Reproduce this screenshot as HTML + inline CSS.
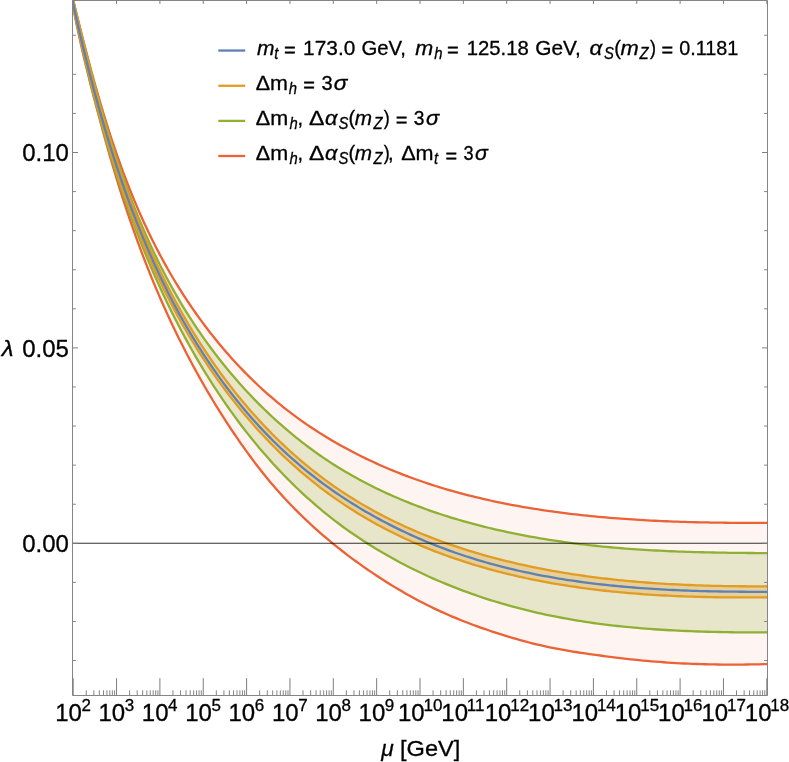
<!DOCTYPE html>
<html><head><meta charset="utf-8"><title>Running of lambda</title>
<style>html,body{margin:0;padding:0;background:#fff}svg{display:block;will-change:transform}</style>
</head><body>
<svg width="789" height="762" viewBox="0 0 789 762">
<rect width="789" height="762" fill="#fff"/>
<defs><clipPath id="cp"><rect x="72.5" y="0" width="695.0" height="695.5"/></clipPath></defs>
<g clip-path="url(#cp)">
<path d="M73.20 0.24 L74.09 3.85 L74.98 7.45 L75.87 11.06 L76.77 14.67 L77.67 18.28 L78.58 21.90 L79.48 25.52 L80.40 29.14 L81.31 32.76 L82.24 36.39 L83.16 40.01 L84.10 43.64 L85.03 47.27 L85.98 50.90 L86.93 54.53 L87.89 58.16 L88.85 61.79 L89.82 65.42 L90.80 69.05 L91.78 72.68 L92.78 76.31 L93.78 79.94 L94.79 83.57 L95.81 87.19 L96.84 90.82 L97.88 94.44 L98.92 98.07 L99.98 101.69 L101.05 105.31 L102.13 108.92 L103.22 112.53 L104.32 116.15 L105.43 119.75 L106.55 123.36 L107.68 126.96 L108.83 130.56 L109.99 134.15 L111.16 137.74 L112.35 141.33 L113.55 144.91 L114.76 148.48 L115.98 152.05 L117.22 155.62 L118.48 159.18 L119.75 162.74 L121.03 166.29 L122.33 169.84 L123.64 173.37 L124.97 176.91 L126.32 180.43 L127.68 183.95 L129.06 187.47 L130.46 190.97 L131.87 194.47 L133.30 197.96 L134.75 201.44 L136.22 204.92 L137.70 208.39 L139.21 211.85 L140.73 215.30 L142.27 218.74 L143.83 222.17 L145.41 225.60 L147.02 229.01 L148.64 232.42 L150.28 235.82 L151.94 239.20 L153.63 242.58 L155.33 245.94 L157.06 249.30 L158.81 252.65 L160.58 255.98 L162.37 259.30 L164.19 262.61 L166.02 265.91 L167.88 269.20 L169.76 272.47 L171.67 275.74 L173.59 278.98 L175.54 282.22 L177.51 285.44 L179.50 288.65 L181.51 291.84 L183.55 295.02 L185.61 298.19 L187.69 301.34 L189.79 304.47 L191.91 307.59 L194.06 310.69 L196.22 313.77 L198.41 316.84 L200.62 319.89 L202.86 322.93 L205.11 325.95 L207.39 328.95 L209.69 331.93 L212.01 334.89 L214.35 337.83 L216.72 340.76 L219.10 343.66 L221.51 346.55 L223.94 349.41 L226.39 352.26 L228.87 355.08 L231.36 357.89 L233.88 360.67 L236.42 363.43 L238.98 366.17 L241.57 368.89 L244.17 371.58 L246.80 374.25 L249.45 376.90 L252.12 379.53 L254.81 382.13 L257.53 384.71 L260.26 387.26 L263.02 389.79 L265.80 392.30 L268.60 394.78 L271.43 397.23 L274.27 399.66 L277.14 402.06 L280.03 404.44 L282.94 406.79 L285.87 409.11 L288.83 411.40 L291.80 413.67 L294.80 415.91 L297.82 418.13 L300.86 420.31 L303.92 422.47 L307.00 424.60 L310.10 426.70 L313.22 428.78 L316.36 430.83 L319.52 432.85 L322.70 434.84 L325.89 436.81 L329.10 438.75 L332.33 440.67 L335.58 442.56 L338.84 444.42 L342.12 446.25 L345.42 448.06 L348.73 449.84 L352.06 451.60 L355.40 453.33 L358.76 455.03 L362.13 456.70 L365.52 458.36 L368.92 459.98 L372.33 461.58 L375.75 463.15 L379.19 464.70 L382.64 466.22 L386.10 467.72 L389.58 469.19 L393.06 470.63 L396.56 472.05 L400.07 473.44 L403.58 474.81 L407.11 476.16 L410.65 477.47 L414.19 478.77 L417.75 480.03 L421.31 481.28 L424.88 482.50 L428.46 483.69 L432.05 484.86 L435.64 486.01 L439.24 487.13 L442.85 488.23 L446.47 489.30 L450.09 490.35 L453.72 491.38 L457.36 492.39 L461.00 493.38 L464.65 494.34 L468.31 495.28 L471.97 496.20 L475.63 497.10 L479.30 497.98 L482.98 498.84 L486.66 499.68 L490.35 500.50 L494.04 501.30 L497.73 502.08 L501.43 502.84 L505.13 503.58 L508.84 504.30 L512.55 505.01 L516.26 505.70 L519.98 506.37 L523.70 507.02 L527.42 507.65 L531.15 508.27 L534.87 508.87 L538.60 509.46 L542.33 510.03 L546.07 510.58 L549.80 511.12 L553.54 511.64 L557.27 512.15 L561.01 512.64 L564.75 513.12 L568.49 513.58 L572.24 514.03 L575.98 514.46 L579.72 514.88 L583.47 515.29 L587.22 515.69 L590.96 516.07 L594.71 516.44 L598.46 516.79 L602.21 517.13 L605.96 517.46 L609.71 517.78 L613.46 518.09 L617.22 518.38 L620.97 518.67 L624.72 518.94 L628.48 519.20 L632.23 519.45 L635.99 519.69 L639.74 519.92 L643.50 520.13 L647.26 520.34 L651.01 520.54 L654.77 520.73 L658.53 520.91 L662.28 521.08 L666.04 521.24 L669.80 521.39 L673.55 521.54 L677.31 521.67 L681.07 521.80 L684.82 521.92 L688.58 522.03 L692.34 522.13 L696.09 522.23 L699.85 522.32 L703.60 522.40 L707.36 522.47 L711.11 522.54 L714.86 522.61 L718.62 522.66 L722.37 522.71 L726.12 522.76 L729.87 522.80 L733.62 522.83 L737.37 522.86 L741.12 522.89 L744.87 522.91 L748.62 522.92 L752.36 522.93 L756.11 522.94 L759.85 522.94 L763.60 522.94 L767.34 522.94 L767.50 664.08 L763.35 664.20 L759.19 664.30 L755.04 664.39 L750.88 664.46 L746.73 664.52 L742.57 664.56 L738.42 664.59 L734.26 664.60 L730.10 664.60 L725.95 664.58 L721.79 664.55 L717.64 664.50 L713.48 664.43 L709.33 664.35 L705.18 664.25 L701.02 664.13 L696.87 664.00 L692.72 663.85 L688.57 663.68 L684.42 663.49 L680.27 663.28 L676.12 663.06 L671.98 662.81 L667.83 662.55 L663.69 662.27 L659.54 661.97 L655.40 661.64 L651.26 661.30 L647.12 660.94 L642.99 660.56 L638.85 660.15 L634.72 659.73 L630.59 659.28 L626.46 658.82 L622.33 658.34 L618.20 657.84 L614.08 657.33 L609.95 656.81 L605.83 656.28 L601.71 655.74 L597.59 655.19 L593.47 654.63 L589.35 654.06 L585.24 653.47 L581.13 652.86 L577.03 652.24 L572.92 651.58 L568.83 650.91 L564.73 650.20 L560.65 649.46 L556.57 648.69 L552.50 647.89 L548.43 647.04 L544.37 646.15 L540.32 645.23 L536.28 644.27 L532.25 643.27 L528.22 642.24 L524.20 641.17 L520.19 640.07 L516.19 638.94 L512.19 637.78 L508.21 636.60 L504.23 635.39 L500.26 634.15 L496.30 632.89 L492.35 631.59 L488.41 630.28 L484.47 628.93 L480.55 627.55 L476.64 626.15 L472.74 624.71 L468.86 623.25 L464.98 621.75 L461.12 620.22 L457.28 618.66 L453.44 617.07 L449.62 615.44 L445.82 613.78 L442.03 612.09 L438.25 610.36 L434.49 608.60 L430.75 606.80 L427.02 604.97 L423.32 603.09 L419.63 601.19 L415.95 599.24 L412.30 597.26 L408.66 595.24 L405.04 593.20 L401.44 591.11 L397.85 589.00 L394.28 586.86 L390.73 584.68 L387.20 582.48 L383.68 580.25 L380.18 578.00 L376.70 575.72 L373.24 573.41 L369.79 571.08 L366.36 568.72 L362.95 566.34 L359.56 563.94 L356.19 561.50 L352.84 559.05 L349.50 556.56 L346.19 554.06 L342.90 551.52 L339.63 548.96 L336.38 546.38 L333.15 543.77 L329.95 541.13 L326.76 538.47 L323.60 535.78 L320.47 533.07 L317.35 530.32 L314.26 527.56 L311.20 524.76 L308.16 521.94 L305.14 519.10 L302.15 516.23 L299.19 513.33 L296.25 510.40 L293.34 507.45 L290.45 504.47 L287.59 501.46 L284.76 498.43 L281.95 495.38 L279.17 492.30 L276.42 489.19 L273.69 486.06 L271.00 482.91 L268.33 479.73 L265.69 476.53 L263.08 473.30 L260.50 470.04 L257.94 466.77 L255.42 463.47 L252.92 460.15 L250.45 456.80 L248.00 453.45 L245.57 450.07 L243.16 446.69 L240.77 443.29 L238.40 439.88 L236.05 436.45 L233.71 433.01 L231.40 429.56 L229.10 426.10 L226.83 422.62 L224.57 419.14 L222.33 415.64 L220.11 412.13 L217.91 408.60 L215.72 405.07 L213.56 401.52 L211.41 397.97 L209.28 394.40 L207.17 390.82 L205.08 387.23 L203.01 383.63 L200.96 380.02 L198.92 376.40 L196.90 372.76 L194.90 369.12 L192.92 365.47 L190.95 361.81 L189.01 358.14 L187.08 354.46 L185.17 350.77 L183.27 347.07 L181.40 343.36 L179.54 339.64 L177.70 335.91 L175.88 332.18 L174.07 328.43 L172.28 324.68 L170.51 320.92 L168.76 317.15 L167.02 313.38 L165.31 309.59 L163.60 305.80 L161.92 302.00 L160.25 298.20 L158.60 294.38 L156.97 290.56 L155.35 286.74 L153.75 282.90 L152.17 279.06 L150.60 275.21 L149.05 271.36 L147.51 267.50 L145.99 263.63 L144.49 259.76 L143.00 255.88 L141.53 251.99 L140.07 248.10 L138.62 244.21 L137.19 240.30 L135.78 236.40 L134.38 232.48 L132.99 228.57 L131.62 224.64 L130.26 220.72 L128.92 216.79 L127.59 212.85 L126.27 208.91 L124.96 204.96 L123.67 201.01 L122.39 197.06 L121.13 193.10 L119.87 189.14 L118.63 185.17 L117.41 181.20 L116.19 177.23 L114.99 173.25 L113.79 169.27 L112.61 165.29 L111.44 161.30 L110.28 157.32 L109.14 153.32 L108.00 149.33 L106.88 145.33 L105.76 141.33 L104.65 137.33 L103.55 133.33 L102.45 129.33 L101.36 125.32 L100.27 121.31 L99.18 117.30 L98.10 113.29 L97.03 109.28 L95.96 105.27 L94.90 101.25 L93.85 97.23 L92.81 93.21 L91.77 89.19 L90.75 85.16 L89.73 81.13 L88.72 77.10 L87.73 73.07 L86.74 69.03 L85.76 64.99 L84.80 60.95 L83.84 56.91 L82.90 52.86 L81.97 48.81 L81.05 44.76 L80.14 40.70 L79.24 36.65 L78.36 32.59 L77.49 28.52 L76.64 24.46 L75.80 20.39 L74.97 16.32 L74.15 12.24 L73.36 8.16 L72.57 4.08 L71.80 -0.00 Z" fill="#EB6235" fill-opacity="0.07"/>
<path d="M72.93 0.13 L73.85 3.84 L74.77 7.55 L75.69 11.26 L76.61 14.98 L77.53 18.69 L78.46 22.41 L79.39 26.13 L80.32 29.85 L81.26 33.57 L82.20 37.29 L83.14 41.01 L84.09 44.73 L85.04 48.46 L85.99 52.18 L86.95 55.90 L87.92 59.63 L88.89 63.35 L89.87 67.07 L90.85 70.79 L91.84 74.51 L92.84 78.23 L93.84 81.95 L94.85 85.66 L95.87 89.38 L96.89 93.09 L97.93 96.80 L98.97 100.51 L100.02 104.21 L101.08 107.92 L102.15 111.62 L103.22 115.32 L104.31 119.01 L105.41 122.71 L106.51 126.40 L107.63 130.08 L108.76 133.77 L109.90 137.44 L111.05 141.12 L112.21 144.79 L113.38 148.46 L114.57 152.12 L115.77 155.77 L116.98 159.43 L118.20 163.07 L119.44 166.72 L120.69 170.35 L121.95 173.99 L123.23 177.61 L124.52 181.23 L125.83 184.85 L127.15 188.45 L128.48 192.06 L129.84 195.65 L131.20 199.24 L132.59 202.82 L133.99 206.40 L135.40 209.96 L136.84 213.53 L138.29 217.08 L139.75 220.62 L141.24 224.16 L142.74 227.69 L144.26 231.21 L145.80 234.73 L147.36 238.23 L148.93 241.73 L150.53 245.21 L152.14 248.69 L153.78 252.16 L155.43 255.62 L157.11 259.07 L158.81 262.51 L160.52 265.94 L162.26 269.36 L164.02 272.78 L165.80 276.18 L167.60 279.57 L169.43 282.95 L171.28 286.31 L173.15 289.67 L175.04 293.02 L176.96 296.35 L178.90 299.68 L180.86 302.99 L182.85 306.29 L184.86 309.58 L186.90 312.85 L188.96 316.11 L191.04 319.36 L193.14 322.60 L195.27 325.82 L197.43 329.02 L199.60 332.22 L201.80 335.39 L204.02 338.55 L206.27 341.70 L208.53 344.83 L210.82 347.95 L213.13 351.04 L215.47 354.12 L217.83 357.19 L220.21 360.23 L222.61 363.26 L225.03 366.27 L227.48 369.26 L229.95 372.24 L232.44 375.19 L234.95 378.12 L237.49 381.04 L240.04 383.93 L242.62 386.80 L245.22 389.66 L247.84 392.49 L250.48 395.30 L253.14 398.09 L255.83 400.85 L258.53 403.60 L261.26 406.32 L264.01 409.01 L266.78 411.69 L269.57 414.34 L272.38 416.97 L275.21 419.57 L278.06 422.14 L280.93 424.70 L283.82 427.22 L286.73 429.72 L289.67 432.20 L292.62 434.65 L295.59 437.07 L298.59 439.47 L301.60 441.83 L304.63 444.17 L307.68 446.49 L310.75 448.77 L313.85 451.02 L316.96 453.25 L320.09 455.45 L323.24 457.61 L326.40 459.75 L329.59 461.86 L332.80 463.93 L336.02 465.98 L339.27 467.99 L342.53 469.98 L345.81 471.93 L349.11 473.85 L352.43 475.75 L355.76 477.61 L359.11 479.45 L362.48 481.25 L365.86 483.03 L369.26 484.78 L372.67 486.49 L376.10 488.19 L379.55 489.85 L383.01 491.48 L386.48 493.09 L389.97 494.67 L393.47 496.22 L396.99 497.75 L400.52 499.25 L404.06 500.72 L407.62 502.16 L411.19 503.58 L414.77 504.98 L418.36 506.35 L421.96 507.69 L425.57 509.01 L429.20 510.30 L432.84 511.57 L436.48 512.81 L440.14 514.03 L443.80 515.22 L447.48 516.39 L451.16 517.54 L454.86 518.66 L458.56 519.76 L462.27 520.84 L465.99 521.89 L469.71 522.93 L473.45 523.94 L477.19 524.92 L480.93 525.89 L484.69 526.83 L488.44 527.75 L492.21 528.66 L495.98 529.54 L499.76 530.39 L503.54 531.23 L507.32 532.05 L511.11 532.85 L514.91 533.63 L518.70 534.39 L522.51 535.12 L526.31 535.84 L530.12 536.54 L533.93 537.23 L537.74 537.89 L541.55 538.53 L545.37 539.16 L549.19 539.77 L553.00 540.36 L556.82 540.93 L560.64 541.49 L564.46 542.03 L568.28 542.55 L572.10 543.06 L575.92 543.55 L579.74 544.02 L583.55 544.48 L587.37 544.92 L591.18 545.34 L595.00 545.76 L598.81 546.15 L602.63 546.53 L606.44 546.90 L610.25 547.25 L614.07 547.59 L617.88 547.92 L621.69 548.23 L625.50 548.54 L629.32 548.82 L633.13 549.10 L636.95 549.36 L640.76 549.61 L644.58 549.85 L648.39 550.08 L652.21 550.30 L656.03 550.51 L659.85 550.70 L663.67 550.89 L667.49 551.07 L671.31 551.24 L675.13 551.39 L678.96 551.54 L682.79 551.68 L686.62 551.81 L690.45 551.94 L694.28 552.05 L698.11 552.16 L701.95 552.26 L705.79 552.35 L709.63 552.44 L713.47 552.52 L717.32 552.59 L721.16 552.66 L725.01 552.72 L728.87 552.78 L732.72 552.83 L736.58 552.88 L740.44 552.92 L744.31 552.95 L748.18 552.99 L752.05 553.02 L755.92 553.04 L759.80 553.06 L763.68 553.08 L767.57 553.10 L767.48 632.45 L763.43 632.45 L759.38 632.44 L755.33 632.43 L751.27 632.41 L747.22 632.39 L743.16 632.36 L739.11 632.32 L735.05 632.28 L730.99 632.23 L726.94 632.17 L722.88 632.10 L718.82 632.02 L714.76 631.93 L710.70 631.83 L706.64 631.73 L702.58 631.61 L698.52 631.48 L694.46 631.34 L690.41 631.19 L686.35 631.02 L682.29 630.85 L678.23 630.66 L674.18 630.45 L670.12 630.24 L666.07 630.01 L662.02 629.76 L657.97 629.50 L653.92 629.23 L649.87 628.93 L645.82 628.63 L641.77 628.30 L637.73 627.96 L633.69 627.60 L629.65 627.23 L625.61 626.84 L621.58 626.42 L617.54 625.99 L613.51 625.54 L609.48 625.07 L605.46 624.58 L601.43 624.07 L597.41 623.54 L593.39 622.99 L589.38 622.41 L585.37 621.82 L581.36 621.20 L577.35 620.56 L573.35 619.89 L569.35 619.20 L565.36 618.49 L561.37 617.75 L557.38 616.99 L553.40 616.20 L549.42 615.39 L545.45 614.55 L541.48 613.69 L537.51 612.80 L533.55 611.88 L529.59 610.94 L525.65 609.97 L521.70 608.97 L517.77 607.95 L513.83 606.90 L509.91 605.82 L506.00 604.72 L502.09 603.59 L498.19 602.43 L494.29 601.25 L490.41 600.04 L486.53 598.80 L482.67 597.54 L478.81 596.24 L474.96 594.92 L471.12 593.58 L467.30 592.20 L463.48 590.80 L459.68 589.37 L455.88 587.92 L452.10 586.43 L448.33 584.92 L444.57 583.38 L440.82 581.81 L437.09 580.21 L433.37 578.59 L429.66 576.93 L425.97 575.25 L422.29 573.54 L418.62 571.80 L414.97 570.04 L411.33 568.24 L407.71 566.42 L404.11 564.56 L400.52 562.68 L396.94 560.77 L393.39 558.83 L389.85 556.86 L386.32 554.86 L382.82 552.84 L379.33 550.78 L375.86 548.69 L372.41 546.58 L368.97 544.44 L365.56 542.26 L362.16 540.06 L358.78 537.82 L355.43 535.56 L352.09 533.27 L348.78 530.94 L345.48 528.59 L342.21 526.21 L338.95 523.79 L335.72 521.35 L332.51 518.88 L329.33 516.37 L326.16 513.84 L323.02 511.27 L319.90 508.68 L316.80 506.06 L313.73 503.41 L310.67 500.73 L307.65 498.03 L304.64 495.30 L301.66 492.54 L298.70 489.76 L295.76 486.96 L292.84 484.12 L289.95 481.27 L287.09 478.39 L284.24 475.49 L281.42 472.56 L278.63 469.61 L275.85 466.64 L273.10 463.65 L270.38 460.64 L267.68 457.61 L265.00 454.55 L262.34 451.48 L259.71 448.39 L257.10 445.27 L254.51 442.14 L251.95 438.99 L249.40 435.82 L246.88 432.63 L244.39 429.43 L241.91 426.20 L239.46 422.96 L237.03 419.71 L234.62 416.43 L232.23 413.14 L229.86 409.84 L227.52 406.52 L225.19 403.18 L222.89 399.83 L220.61 396.47 L218.35 393.09 L216.11 389.69 L213.89 386.29 L211.69 382.87 L209.51 379.43 L207.35 375.99 L205.22 372.53 L203.10 369.06 L201.00 365.58 L198.92 362.09 L196.86 358.59 L194.83 355.07 L192.81 351.55 L190.81 348.02 L188.82 344.47 L186.86 340.92 L184.92 337.36 L183.00 333.79 L181.09 330.21 L179.20 326.62 L177.33 323.02 L175.48 319.42 L173.65 315.80 L171.84 312.18 L170.04 308.54 L168.26 304.90 L166.50 301.25 L164.75 297.60 L163.03 293.93 L161.32 290.26 L159.62 286.57 L157.95 282.88 L156.29 279.19 L154.65 275.48 L153.02 271.77 L151.41 268.05 L149.82 264.33 L148.24 260.59 L146.68 256.85 L145.13 253.10 L143.60 249.35 L142.08 245.59 L140.58 241.82 L139.10 238.05 L137.63 234.27 L136.18 230.48 L134.74 226.69 L133.31 222.89 L131.90 219.09 L130.50 215.28 L129.12 211.46 L127.75 207.64 L126.40 203.81 L125.06 199.98 L123.73 196.14 L122.42 192.30 L121.12 188.46 L119.83 184.60 L118.56 180.75 L117.30 176.88 L116.05 173.02 L114.82 169.15 L113.60 165.27 L112.39 161.39 L111.19 157.51 L110.01 153.62 L108.84 149.73 L107.67 145.83 L106.53 141.93 L105.39 138.03 L104.26 134.13 L103.15 130.22 L102.05 126.30 L100.95 122.39 L99.87 118.47 L98.80 114.55 L97.74 110.62 L96.69 106.70 L95.66 102.77 L94.63 98.83 L93.61 94.90 L92.60 90.96 L91.60 87.02 L90.61 83.08 L89.64 79.14 L88.67 75.19 L87.71 71.24 L86.75 67.30 L85.81 63.35 L84.88 59.39 L83.96 55.44 L83.04 51.49 L82.13 47.53 L81.24 43.58 L80.34 39.62 L79.46 35.66 L78.59 31.70 L77.72 27.75 L76.86 23.79 L76.01 19.83 L75.17 15.87 L74.33 11.91 L73.50 7.95 L72.68 3.99 L71.86 0.03 Z" fill="#8FB032" fill-opacity="0.20"/>
<path d="M73.03 0.07 L73.93 3.88 L74.83 7.68 L75.74 11.49 L76.65 15.31 L77.57 19.12 L78.48 22.93 L79.41 26.74 L80.33 30.55 L81.26 34.36 L82.20 38.17 L83.14 41.98 L84.09 45.79 L85.04 49.60 L86.00 53.41 L86.96 57.22 L87.93 61.02 L88.91 64.83 L89.89 68.63 L90.88 72.43 L91.88 76.24 L92.88 80.03 L93.90 83.83 L94.92 87.63 L95.94 91.42 L96.98 95.21 L98.02 99.00 L99.08 102.79 L100.14 106.57 L101.21 110.36 L102.29 114.14 L103.38 117.91 L104.48 121.68 L105.59 125.45 L106.71 129.22 L107.84 132.98 L108.98 136.74 L110.13 140.50 L111.29 144.25 L112.47 148.00 L113.65 151.74 L114.85 155.48 L116.06 159.22 L117.28 162.95 L118.51 166.68 L119.76 170.40 L121.02 174.12 L122.29 177.83 L123.58 181.54 L124.88 185.24 L126.19 188.93 L127.52 192.62 L128.86 196.31 L130.21 199.99 L131.58 203.66 L132.97 207.33 L134.37 210.99 L135.78 214.65 L137.21 218.30 L138.66 221.94 L140.12 225.58 L141.60 229.21 L143.10 232.83 L144.61 236.45 L146.14 240.06 L147.68 243.66 L149.25 247.25 L150.83 250.84 L152.43 254.42 L154.04 257.99 L155.68 261.56 L157.33 265.11 L159.00 268.66 L160.69 272.20 L162.40 275.73 L164.13 279.25 L165.88 282.77 L167.65 286.27 L169.44 289.77 L171.25 293.26 L173.07 296.74 L174.92 300.20 L176.79 303.66 L178.69 307.11 L180.60 310.55 L182.53 313.98 L184.49 317.40 L186.46 320.81 L188.46 324.21 L190.47 327.59 L192.51 330.97 L194.57 334.33 L196.65 337.68 L198.75 341.01 L200.87 344.33 L203.02 347.64 L205.18 350.94 L207.37 354.22 L209.57 357.48 L211.80 360.73 L214.05 363.97 L216.32 367.19 L218.61 370.40 L220.93 373.58 L223.26 376.76 L225.62 379.91 L227.99 383.05 L230.39 386.17 L232.81 389.27 L235.25 392.36 L237.72 395.43 L240.20 398.47 L242.70 401.50 L245.23 404.51 L247.78 407.50 L250.35 410.47 L252.94 413.42 L255.55 416.35 L258.19 419.26 L260.85 422.14 L263.52 425.01 L266.22 427.85 L268.94 430.67 L271.69 433.47 L274.45 436.25 L277.24 439.00 L280.05 441.73 L282.88 444.43 L285.73 447.11 L288.60 449.77 L291.50 452.40 L294.41 455.00 L297.35 457.58 L300.31 460.14 L303.30 462.67 L306.30 465.17 L309.33 467.64 L312.38 470.09 L315.45 472.51 L318.54 474.91 L321.66 477.27 L324.79 479.61 L327.95 481.92 L331.13 484.20 L334.34 486.44 L337.56 488.66 L340.81 490.86 L344.07 493.02 L347.36 495.15 L350.67 497.25 L354.00 499.32 L357.35 501.37 L360.71 503.38 L364.10 505.37 L367.50 507.33 L370.92 509.25 L374.36 511.15 L377.82 513.02 L381.29 514.86 L384.78 516.67 L388.28 518.46 L391.80 520.21 L395.33 521.94 L398.88 523.63 L402.44 525.30 L406.01 526.94 L409.60 528.55 L413.20 530.13 L416.82 531.69 L420.44 533.21 L424.08 534.71 L427.73 536.18 L431.38 537.62 L435.05 539.03 L438.73 540.42 L442.42 541.78 L446.12 543.11 L449.83 544.42 L453.55 545.70 L457.27 546.95 L461.01 548.18 L464.75 549.38 L468.50 550.56 L472.26 551.72 L476.02 552.85 L479.79 553.95 L483.57 555.04 L487.36 556.09 L491.15 557.13 L494.94 558.14 L498.75 559.14 L502.55 560.10 L506.37 561.05 L510.18 561.98 L514.00 562.88 L517.83 563.76 L521.66 564.63 L525.49 565.47 L529.33 566.29 L533.17 567.09 L537.01 567.87 L540.86 568.63 L544.72 569.37 L548.57 570.09 L552.43 570.80 L556.30 571.48 L560.16 572.15 L564.03 572.79 L567.90 573.42 L571.78 574.03 L575.66 574.62 L579.54 575.20 L583.42 575.76 L587.31 576.30 L591.20 576.82 L595.09 577.32 L598.99 577.81 L602.88 578.29 L606.78 578.74 L610.68 579.19 L614.59 579.61 L618.49 580.02 L622.40 580.42 L626.31 580.80 L630.22 581.16 L634.13 581.51 L638.04 581.85 L641.96 582.17 L645.88 582.48 L649.79 582.77 L653.71 583.05 L657.63 583.32 L661.55 583.57 L665.48 583.81 L669.40 584.04 L673.32 584.26 L677.25 584.46 L681.17 584.65 L685.09 584.83 L689.02 585.00 L692.95 585.16 L696.87 585.30 L700.80 585.44 L704.72 585.56 L708.65 585.67 L712.57 585.78 L716.50 585.87 L720.42 585.95 L724.35 586.03 L728.27 586.09 L732.20 586.15 L736.12 586.19 L740.04 586.23 L743.96 586.26 L747.88 586.28 L751.80 586.29 L755.72 586.29 L759.63 586.29 L763.55 586.28 L767.46 586.26 L767.36 597.30 L763.42 597.34 L759.48 597.37 L755.53 597.40 L751.58 597.42 L747.63 597.43 L743.68 597.44 L739.73 597.43 L735.77 597.42 L731.82 597.40 L727.86 597.37 L723.90 597.33 L719.94 597.29 L715.97 597.23 L712.01 597.16 L708.05 597.09 L704.08 597.00 L700.11 596.90 L696.15 596.80 L692.18 596.68 L688.21 596.55 L684.24 596.41 L680.28 596.25 L676.31 596.09 L672.34 595.91 L668.37 595.72 L664.40 595.52 L660.44 595.30 L656.47 595.07 L652.50 594.83 L648.54 594.57 L644.57 594.30 L640.61 594.01 L636.64 593.71 L632.68 593.39 L628.72 593.06 L624.76 592.72 L620.81 592.35 L616.85 591.98 L612.90 591.58 L608.94 591.17 L604.99 590.74 L601.04 590.30 L597.10 589.84 L593.15 589.36 L589.21 588.86 L585.27 588.34 L581.34 587.81 L577.40 587.26 L573.47 586.68 L569.54 586.09 L565.62 585.48 L561.70 584.85 L557.78 584.20 L553.86 583.53 L549.95 582.84 L546.04 582.13 L542.14 581.40 L538.24 580.64 L534.34 579.87 L530.45 579.07 L526.56 578.25 L522.68 577.41 L518.80 576.55 L514.93 575.66 L511.06 574.75 L507.19 573.82 L503.33 572.86 L499.48 571.88 L495.63 570.88 L491.78 569.85 L487.94 568.79 L484.11 567.72 L480.29 566.61 L476.47 565.48 L472.66 564.33 L468.86 563.15 L465.07 561.94 L461.28 560.71 L457.51 559.45 L453.74 558.17 L449.98 556.85 L446.24 555.51 L442.50 554.15 L438.77 552.75 L435.06 551.33 L431.35 549.88 L427.66 548.40 L423.98 546.89 L420.31 545.36 L416.65 543.79 L413.01 542.20 L409.38 540.57 L405.76 538.92 L402.16 537.24 L398.57 535.53 L395.00 533.78 L391.44 532.01 L387.90 530.21 L384.37 528.38 L380.86 526.52 L377.37 524.64 L373.89 522.72 L370.43 520.77 L366.99 518.79 L363.57 516.79 L360.16 514.75 L356.78 512.69 L353.41 510.59 L350.07 508.47 L346.74 506.32 L343.44 504.13 L340.15 501.92 L336.89 499.68 L333.65 497.41 L330.43 495.11 L327.24 492.78 L324.07 490.43 L320.92 488.04 L317.79 485.63 L314.68 483.18 L311.60 480.71 L308.53 478.22 L305.49 475.69 L302.48 473.14 L299.48 470.57 L296.51 467.96 L293.56 465.34 L290.63 462.68 L287.72 460.00 L284.83 457.30 L281.97 454.57 L279.13 451.82 L276.31 449.04 L273.51 446.25 L270.73 443.42 L267.98 440.58 L265.25 437.71 L262.53 434.82 L259.85 431.91 L257.18 428.98 L254.53 426.02 L251.91 423.05 L249.31 420.05 L246.73 417.03 L244.17 414.00 L241.63 410.94 L239.11 407.87 L236.62 404.77 L234.14 401.66 L231.69 398.53 L229.26 395.38 L226.85 392.21 L224.47 389.02 L222.10 385.82 L219.76 382.60 L217.43 379.37 L215.13 376.11 L212.85 372.85 L210.59 369.56 L208.35 366.26 L206.14 362.95 L203.94 359.62 L201.77 356.28 L199.61 352.92 L197.48 349.55 L195.37 346.17 L193.28 342.77 L191.21 339.36 L189.16 335.94 L187.13 332.50 L185.13 329.05 L183.14 325.60 L181.18 322.13 L179.23 318.65 L177.31 315.16 L175.41 311.66 L173.53 308.14 L171.67 304.62 L169.83 301.09 L168.01 297.55 L166.21 294.01 L164.43 290.45 L162.68 286.88 L160.94 283.31 L159.22 279.73 L157.52 276.14 L155.84 272.54 L154.18 268.93 L152.54 265.32 L150.92 261.70 L149.31 258.07 L147.73 254.43 L146.16 250.78 L144.61 247.13 L143.08 243.47 L141.56 239.81 L140.06 236.13 L138.58 232.45 L137.12 228.77 L135.67 225.08 L134.24 221.38 L132.82 217.67 L131.42 213.96 L130.04 210.24 L128.67 206.52 L127.32 202.79 L125.98 199.05 L124.65 195.31 L123.34 191.57 L122.05 187.82 L120.77 184.06 L119.50 180.30 L118.25 176.53 L117.01 172.76 L115.78 168.99 L114.57 165.21 L113.37 161.42 L112.18 157.63 L111.00 153.84 L109.84 150.04 L108.69 146.24 L107.55 142.44 L106.42 138.63 L105.30 134.82 L104.20 131.00 L103.10 127.18 L102.02 123.36 L100.94 119.53 L99.88 115.71 L98.83 111.88 L97.78 108.04 L96.75 104.21 L95.72 100.37 L94.71 96.53 L93.70 92.68 L92.70 88.84 L91.71 84.99 L90.73 81.14 L89.76 77.29 L88.79 73.44 L87.83 69.59 L86.88 65.73 L85.94 61.87 L85.01 58.02 L84.08 54.16 L83.15 50.30 L82.24 46.44 L81.33 42.58 L80.42 38.72 L79.52 34.86 L78.63 30.99 L77.74 27.13 L76.86 23.27 L75.98 19.41 L75.11 15.55 L74.24 11.69 L73.38 7.83 L72.52 3.97 L71.66 0.11 Z" fill="#E19C24" fill-opacity="0.30"/>
<path d="M73.20 0.24 L74.09 3.85 L74.98 7.45 L75.87 11.06 L76.77 14.67 L77.67 18.28 L78.58 21.90 L79.48 25.52 L80.40 29.14 L81.31 32.76 L82.24 36.39 L83.16 40.01 L84.10 43.64 L85.03 47.27 L85.98 50.90 L86.93 54.53 L87.89 58.16 L88.85 61.79 L89.82 65.42 L90.80 69.05 L91.78 72.68 L92.78 76.31 L93.78 79.94 L94.79 83.57 L95.81 87.19 L96.84 90.82 L97.88 94.44 L98.92 98.07 L99.98 101.69 L101.05 105.31 L102.13 108.92 L103.22 112.53 L104.32 116.15 L105.43 119.75 L106.55 123.36 L107.68 126.96 L108.83 130.56 L109.99 134.15 L111.16 137.74 L112.35 141.33 L113.55 144.91 L114.76 148.48 L115.98 152.05 L117.22 155.62 L118.48 159.18 L119.75 162.74 L121.03 166.29 L122.33 169.84 L123.64 173.37 L124.97 176.91 L126.32 180.43 L127.68 183.95 L129.06 187.47 L130.46 190.97 L131.87 194.47 L133.30 197.96 L134.75 201.44 L136.22 204.92 L137.70 208.39 L139.21 211.85 L140.73 215.30 L142.27 218.74 L143.83 222.17 L145.41 225.60 L147.02 229.01 L148.64 232.42 L150.28 235.82 L151.94 239.20 L153.63 242.58 L155.33 245.94 L157.06 249.30 L158.81 252.65 L160.58 255.98 L162.37 259.30 L164.19 262.61 L166.02 265.91 L167.88 269.20 L169.76 272.47 L171.67 275.74 L173.59 278.98 L175.54 282.22 L177.51 285.44 L179.50 288.65 L181.51 291.84 L183.55 295.02 L185.61 298.19 L187.69 301.34 L189.79 304.47 L191.91 307.59 L194.06 310.69 L196.22 313.77 L198.41 316.84 L200.62 319.89 L202.86 322.93 L205.11 325.95 L207.39 328.95 L209.69 331.93 L212.01 334.89 L214.35 337.83 L216.72 340.76 L219.10 343.66 L221.51 346.55 L223.94 349.41 L226.39 352.26 L228.87 355.08 L231.36 357.89 L233.88 360.67 L236.42 363.43 L238.98 366.17 L241.57 368.89 L244.17 371.58 L246.80 374.25 L249.45 376.90 L252.12 379.53 L254.81 382.13 L257.53 384.71 L260.26 387.26 L263.02 389.79 L265.80 392.30 L268.60 394.78 L271.43 397.23 L274.27 399.66 L277.14 402.06 L280.03 404.44 L282.94 406.79 L285.87 409.11 L288.83 411.40 L291.80 413.67 L294.80 415.91 L297.82 418.13 L300.86 420.31 L303.92 422.47 L307.00 424.60 L310.10 426.70 L313.22 428.78 L316.36 430.83 L319.52 432.85 L322.70 434.84 L325.89 436.81 L329.10 438.75 L332.33 440.67 L335.58 442.56 L338.84 444.42 L342.12 446.25 L345.42 448.06 L348.73 449.84 L352.06 451.60 L355.40 453.33 L358.76 455.03 L362.13 456.70 L365.52 458.36 L368.92 459.98 L372.33 461.58 L375.75 463.15 L379.19 464.70 L382.64 466.22 L386.10 467.72 L389.58 469.19 L393.06 470.63 L396.56 472.05 L400.07 473.44 L403.58 474.81 L407.11 476.16 L410.65 477.47 L414.19 478.77 L417.75 480.03 L421.31 481.28 L424.88 482.50 L428.46 483.69 L432.05 484.86 L435.64 486.01 L439.24 487.13 L442.85 488.23 L446.47 489.30 L450.09 490.35 L453.72 491.38 L457.36 492.39 L461.00 493.38 L464.65 494.34 L468.31 495.28 L471.97 496.20 L475.63 497.10 L479.30 497.98 L482.98 498.84 L486.66 499.68 L490.35 500.50 L494.04 501.30 L497.73 502.08 L501.43 502.84 L505.13 503.58 L508.84 504.30 L512.55 505.01 L516.26 505.70 L519.98 506.37 L523.70 507.02 L527.42 507.65 L531.15 508.27 L534.87 508.87 L538.60 509.46 L542.33 510.03 L546.07 510.58 L549.80 511.12 L553.54 511.64 L557.27 512.15 L561.01 512.64 L564.75 513.12 L568.49 513.58 L572.24 514.03 L575.98 514.46 L579.72 514.88 L583.47 515.29 L587.22 515.69 L590.96 516.07 L594.71 516.44 L598.46 516.79 L602.21 517.13 L605.96 517.46 L609.71 517.78 L613.46 518.09 L617.22 518.38 L620.97 518.67 L624.72 518.94 L628.48 519.20 L632.23 519.45 L635.99 519.69 L639.74 519.92 L643.50 520.13 L647.26 520.34 L651.01 520.54 L654.77 520.73 L658.53 520.91 L662.28 521.08 L666.04 521.24 L669.80 521.39 L673.55 521.54 L677.31 521.67 L681.07 521.80 L684.82 521.92 L688.58 522.03 L692.34 522.13 L696.09 522.23 L699.85 522.32 L703.60 522.40 L707.36 522.47 L711.11 522.54 L714.86 522.61 L718.62 522.66 L722.37 522.71 L726.12 522.76 L729.87 522.80 L733.62 522.83 L737.37 522.86 L741.12 522.89 L744.87 522.91 L748.62 522.92 L752.36 522.93 L756.11 522.94 L759.85 522.94 L763.60 522.94 L767.34 522.94" fill="none" stroke="#EB6235" stroke-width="2.3" stroke-linejoin="round"/>
<path d="M71.80 -0.00 L72.57 4.08 L73.36 8.16 L74.15 12.24 L74.97 16.32 L75.80 20.39 L76.64 24.46 L77.49 28.52 L78.36 32.59 L79.24 36.65 L80.14 40.70 L81.05 44.76 L81.97 48.81 L82.90 52.86 L83.84 56.91 L84.80 60.95 L85.76 64.99 L86.74 69.03 L87.73 73.07 L88.72 77.10 L89.73 81.13 L90.75 85.16 L91.77 89.19 L92.81 93.21 L93.85 97.23 L94.90 101.25 L95.96 105.27 L97.03 109.28 L98.10 113.29 L99.18 117.30 L100.27 121.31 L101.36 125.32 L102.45 129.33 L103.55 133.33 L104.65 137.33 L105.76 141.33 L106.88 145.33 L108.00 149.33 L109.14 153.32 L110.28 157.32 L111.44 161.30 L112.61 165.29 L113.79 169.27 L114.99 173.25 L116.19 177.23 L117.41 181.20 L118.63 185.17 L119.87 189.14 L121.13 193.10 L122.39 197.06 L123.67 201.01 L124.96 204.96 L126.27 208.91 L127.59 212.85 L128.92 216.79 L130.26 220.72 L131.62 224.64 L132.99 228.57 L134.38 232.48 L135.78 236.40 L137.19 240.30 L138.62 244.21 L140.07 248.10 L141.53 251.99 L143.00 255.88 L144.49 259.76 L145.99 263.63 L147.51 267.50 L149.05 271.36 L150.60 275.21 L152.17 279.06 L153.75 282.90 L155.35 286.74 L156.97 290.56 L158.60 294.38 L160.25 298.20 L161.92 302.00 L163.60 305.80 L165.31 309.59 L167.02 313.38 L168.76 317.15 L170.51 320.92 L172.28 324.68 L174.07 328.43 L175.88 332.18 L177.70 335.91 L179.54 339.64 L181.40 343.36 L183.27 347.07 L185.17 350.77 L187.08 354.46 L189.01 358.14 L190.95 361.81 L192.92 365.47 L194.90 369.12 L196.90 372.76 L198.92 376.40 L200.96 380.02 L203.01 383.63 L205.08 387.23 L207.17 390.82 L209.28 394.40 L211.41 397.97 L213.56 401.52 L215.72 405.07 L217.91 408.60 L220.11 412.13 L222.33 415.64 L224.57 419.14 L226.83 422.62 L229.10 426.10 L231.40 429.56 L233.71 433.01 L236.05 436.45 L238.40 439.88 L240.77 443.29 L243.16 446.69 L245.57 450.07 L248.00 453.45 L250.45 456.80 L252.92 460.15 L255.42 463.47 L257.94 466.77 L260.50 470.04 L263.08 473.30 L265.69 476.53 L268.33 479.73 L271.00 482.91 L273.69 486.06 L276.42 489.19 L279.17 492.30 L281.95 495.38 L284.76 498.43 L287.59 501.46 L290.45 504.47 L293.34 507.45 L296.25 510.40 L299.19 513.33 L302.15 516.23 L305.14 519.10 L308.16 521.94 L311.20 524.76 L314.26 527.56 L317.35 530.32 L320.47 533.07 L323.60 535.78 L326.76 538.47 L329.95 541.13 L333.15 543.77 L336.38 546.38 L339.63 548.96 L342.90 551.52 L346.19 554.06 L349.50 556.56 L352.84 559.05 L356.19 561.50 L359.56 563.94 L362.95 566.34 L366.36 568.72 L369.79 571.08 L373.24 573.41 L376.70 575.72 L380.18 578.00 L383.68 580.25 L387.20 582.48 L390.73 584.68 L394.28 586.86 L397.85 589.00 L401.44 591.11 L405.04 593.20 L408.66 595.24 L412.30 597.26 L415.95 599.24 L419.63 601.19 L423.32 603.09 L427.02 604.97 L430.75 606.80 L434.49 608.60 L438.25 610.36 L442.03 612.09 L445.82 613.78 L449.62 615.44 L453.44 617.07 L457.28 618.66 L461.12 620.22 L464.98 621.75 L468.86 623.25 L472.74 624.71 L476.64 626.15 L480.55 627.55 L484.47 628.93 L488.41 630.28 L492.35 631.59 L496.30 632.89 L500.26 634.15 L504.23 635.39 L508.21 636.60 L512.19 637.78 L516.19 638.94 L520.19 640.07 L524.20 641.17 L528.22 642.24 L532.25 643.27 L536.28 644.27 L540.32 645.23 L544.37 646.15 L548.43 647.04 L552.50 647.89 L556.57 648.69 L560.65 649.46 L564.73 650.20 L568.83 650.91 L572.92 651.58 L577.03 652.24 L581.13 652.86 L585.24 653.47 L589.35 654.06 L593.47 654.63 L597.59 655.19 L601.71 655.74 L605.83 656.28 L609.95 656.81 L614.08 657.33 L618.20 657.84 L622.33 658.34 L626.46 658.82 L630.59 659.28 L634.72 659.73 L638.85 660.15 L642.99 660.56 L647.12 660.94 L651.26 661.30 L655.40 661.64 L659.54 661.97 L663.69 662.27 L667.83 662.55 L671.98 662.81 L676.12 663.06 L680.27 663.28 L684.42 663.49 L688.57 663.68 L692.72 663.85 L696.87 664.00 L701.02 664.13 L705.18 664.25 L709.33 664.35 L713.48 664.43 L717.64 664.50 L721.79 664.55 L725.95 664.58 L730.10 664.60 L734.26 664.60 L738.42 664.59 L742.57 664.56 L746.73 664.52 L750.88 664.46 L755.04 664.39 L759.19 664.30 L763.35 664.20 L767.50 664.08" fill="none" stroke="#EB6235" stroke-width="2.3" stroke-linejoin="round"/>
<path d="M72.93 0.13 L73.85 3.84 L74.77 7.55 L75.69 11.26 L76.61 14.98 L77.53 18.69 L78.46 22.41 L79.39 26.13 L80.32 29.85 L81.26 33.57 L82.20 37.29 L83.14 41.01 L84.09 44.73 L85.04 48.46 L85.99 52.18 L86.95 55.90 L87.92 59.63 L88.89 63.35 L89.87 67.07 L90.85 70.79 L91.84 74.51 L92.84 78.23 L93.84 81.95 L94.85 85.66 L95.87 89.38 L96.89 93.09 L97.93 96.80 L98.97 100.51 L100.02 104.21 L101.08 107.92 L102.15 111.62 L103.22 115.32 L104.31 119.01 L105.41 122.71 L106.51 126.40 L107.63 130.08 L108.76 133.77 L109.90 137.44 L111.05 141.12 L112.21 144.79 L113.38 148.46 L114.57 152.12 L115.77 155.77 L116.98 159.43 L118.20 163.07 L119.44 166.72 L120.69 170.35 L121.95 173.99 L123.23 177.61 L124.52 181.23 L125.83 184.85 L127.15 188.45 L128.48 192.06 L129.84 195.65 L131.20 199.24 L132.59 202.82 L133.99 206.40 L135.40 209.96 L136.84 213.53 L138.29 217.08 L139.75 220.62 L141.24 224.16 L142.74 227.69 L144.26 231.21 L145.80 234.73 L147.36 238.23 L148.93 241.73 L150.53 245.21 L152.14 248.69 L153.78 252.16 L155.43 255.62 L157.11 259.07 L158.81 262.51 L160.52 265.94 L162.26 269.36 L164.02 272.78 L165.80 276.18 L167.60 279.57 L169.43 282.95 L171.28 286.31 L173.15 289.67 L175.04 293.02 L176.96 296.35 L178.90 299.68 L180.86 302.99 L182.85 306.29 L184.86 309.58 L186.90 312.85 L188.96 316.11 L191.04 319.36 L193.14 322.60 L195.27 325.82 L197.43 329.02 L199.60 332.22 L201.80 335.39 L204.02 338.55 L206.27 341.70 L208.53 344.83 L210.82 347.95 L213.13 351.04 L215.47 354.12 L217.83 357.19 L220.21 360.23 L222.61 363.26 L225.03 366.27 L227.48 369.26 L229.95 372.24 L232.44 375.19 L234.95 378.12 L237.49 381.04 L240.04 383.93 L242.62 386.80 L245.22 389.66 L247.84 392.49 L250.48 395.30 L253.14 398.09 L255.83 400.85 L258.53 403.60 L261.26 406.32 L264.01 409.01 L266.78 411.69 L269.57 414.34 L272.38 416.97 L275.21 419.57 L278.06 422.14 L280.93 424.70 L283.82 427.22 L286.73 429.72 L289.67 432.20 L292.62 434.65 L295.59 437.07 L298.59 439.47 L301.60 441.83 L304.63 444.17 L307.68 446.49 L310.75 448.77 L313.85 451.02 L316.96 453.25 L320.09 455.45 L323.24 457.61 L326.40 459.75 L329.59 461.86 L332.80 463.93 L336.02 465.98 L339.27 467.99 L342.53 469.98 L345.81 471.93 L349.11 473.85 L352.43 475.75 L355.76 477.61 L359.11 479.45 L362.48 481.25 L365.86 483.03 L369.26 484.78 L372.67 486.49 L376.10 488.19 L379.55 489.85 L383.01 491.48 L386.48 493.09 L389.97 494.67 L393.47 496.22 L396.99 497.75 L400.52 499.25 L404.06 500.72 L407.62 502.16 L411.19 503.58 L414.77 504.98 L418.36 506.35 L421.96 507.69 L425.57 509.01 L429.20 510.30 L432.84 511.57 L436.48 512.81 L440.14 514.03 L443.80 515.22 L447.48 516.39 L451.16 517.54 L454.86 518.66 L458.56 519.76 L462.27 520.84 L465.99 521.89 L469.71 522.93 L473.45 523.94 L477.19 524.92 L480.93 525.89 L484.69 526.83 L488.44 527.75 L492.21 528.66 L495.98 529.54 L499.76 530.39 L503.54 531.23 L507.32 532.05 L511.11 532.85 L514.91 533.63 L518.70 534.39 L522.51 535.12 L526.31 535.84 L530.12 536.54 L533.93 537.23 L537.74 537.89 L541.55 538.53 L545.37 539.16 L549.19 539.77 L553.00 540.36 L556.82 540.93 L560.64 541.49 L564.46 542.03 L568.28 542.55 L572.10 543.06 L575.92 543.55 L579.74 544.02 L583.55 544.48 L587.37 544.92 L591.18 545.34 L595.00 545.76 L598.81 546.15 L602.63 546.53 L606.44 546.90 L610.25 547.25 L614.07 547.59 L617.88 547.92 L621.69 548.23 L625.50 548.54 L629.32 548.82 L633.13 549.10 L636.95 549.36 L640.76 549.61 L644.58 549.85 L648.39 550.08 L652.21 550.30 L656.03 550.51 L659.85 550.70 L663.67 550.89 L667.49 551.07 L671.31 551.24 L675.13 551.39 L678.96 551.54 L682.79 551.68 L686.62 551.81 L690.45 551.94 L694.28 552.05 L698.11 552.16 L701.95 552.26 L705.79 552.35 L709.63 552.44 L713.47 552.52 L717.32 552.59 L721.16 552.66 L725.01 552.72 L728.87 552.78 L732.72 552.83 L736.58 552.88 L740.44 552.92 L744.31 552.95 L748.18 552.99 L752.05 553.02 L755.92 553.04 L759.80 553.06 L763.68 553.08 L767.57 553.10" fill="none" stroke="#8FB032" stroke-width="2.3" stroke-linejoin="round"/>
<path d="M71.86 0.03 L72.68 3.99 L73.50 7.95 L74.33 11.91 L75.17 15.87 L76.01 19.83 L76.86 23.79 L77.72 27.75 L78.59 31.70 L79.46 35.66 L80.34 39.62 L81.24 43.58 L82.13 47.53 L83.04 51.49 L83.96 55.44 L84.88 59.39 L85.81 63.35 L86.75 67.30 L87.71 71.24 L88.67 75.19 L89.64 79.14 L90.61 83.08 L91.60 87.02 L92.60 90.96 L93.61 94.90 L94.63 98.83 L95.66 102.77 L96.69 106.70 L97.74 110.62 L98.80 114.55 L99.87 118.47 L100.95 122.39 L102.05 126.30 L103.15 130.22 L104.26 134.13 L105.39 138.03 L106.53 141.93 L107.67 145.83 L108.84 149.73 L110.01 153.62 L111.19 157.51 L112.39 161.39 L113.60 165.27 L114.82 169.15 L116.05 173.02 L117.30 176.88 L118.56 180.75 L119.83 184.60 L121.12 188.46 L122.42 192.30 L123.73 196.14 L125.06 199.98 L126.40 203.81 L127.75 207.64 L129.12 211.46 L130.50 215.28 L131.90 219.09 L133.31 222.89 L134.74 226.69 L136.18 230.48 L137.63 234.27 L139.10 238.05 L140.58 241.82 L142.08 245.59 L143.60 249.35 L145.13 253.10 L146.68 256.85 L148.24 260.59 L149.82 264.33 L151.41 268.05 L153.02 271.77 L154.65 275.48 L156.29 279.19 L157.95 282.88 L159.62 286.57 L161.32 290.26 L163.03 293.93 L164.75 297.60 L166.50 301.25 L168.26 304.90 L170.04 308.54 L171.84 312.18 L173.65 315.80 L175.48 319.42 L177.33 323.02 L179.20 326.62 L181.09 330.21 L183.00 333.79 L184.92 337.36 L186.86 340.92 L188.82 344.47 L190.81 348.02 L192.81 351.55 L194.83 355.07 L196.86 358.59 L198.92 362.09 L201.00 365.58 L203.10 369.06 L205.22 372.53 L207.35 375.99 L209.51 379.43 L211.69 382.87 L213.89 386.29 L216.11 389.69 L218.35 393.09 L220.61 396.47 L222.89 399.83 L225.19 403.18 L227.52 406.52 L229.86 409.84 L232.23 413.14 L234.62 416.43 L237.03 419.71 L239.46 422.96 L241.91 426.20 L244.39 429.43 L246.88 432.63 L249.40 435.82 L251.95 438.99 L254.51 442.14 L257.10 445.27 L259.71 448.39 L262.34 451.48 L265.00 454.55 L267.68 457.61 L270.38 460.64 L273.10 463.65 L275.85 466.64 L278.63 469.61 L281.42 472.56 L284.24 475.49 L287.09 478.39 L289.95 481.27 L292.84 484.12 L295.76 486.96 L298.70 489.76 L301.66 492.54 L304.64 495.30 L307.65 498.03 L310.67 500.73 L313.73 503.41 L316.80 506.06 L319.90 508.68 L323.02 511.27 L326.16 513.84 L329.33 516.37 L332.51 518.88 L335.72 521.35 L338.95 523.79 L342.21 526.21 L345.48 528.59 L348.78 530.94 L352.09 533.27 L355.43 535.56 L358.78 537.82 L362.16 540.06 L365.56 542.26 L368.97 544.44 L372.41 546.58 L375.86 548.69 L379.33 550.78 L382.82 552.84 L386.32 554.86 L389.85 556.86 L393.39 558.83 L396.94 560.77 L400.52 562.68 L404.11 564.56 L407.71 566.42 L411.33 568.24 L414.97 570.04 L418.62 571.80 L422.29 573.54 L425.97 575.25 L429.66 576.93 L433.37 578.59 L437.09 580.21 L440.82 581.81 L444.57 583.38 L448.33 584.92 L452.10 586.43 L455.88 587.92 L459.68 589.37 L463.48 590.80 L467.30 592.20 L471.12 593.58 L474.96 594.92 L478.81 596.24 L482.67 597.54 L486.53 598.80 L490.41 600.04 L494.29 601.25 L498.19 602.43 L502.09 603.59 L506.00 604.72 L509.91 605.82 L513.83 606.90 L517.77 607.95 L521.70 608.97 L525.65 609.97 L529.59 610.94 L533.55 611.88 L537.51 612.80 L541.48 613.69 L545.45 614.55 L549.42 615.39 L553.40 616.20 L557.38 616.99 L561.37 617.75 L565.36 618.49 L569.35 619.20 L573.35 619.89 L577.35 620.56 L581.36 621.20 L585.37 621.82 L589.38 622.41 L593.39 622.99 L597.41 623.54 L601.43 624.07 L605.46 624.58 L609.48 625.07 L613.51 625.54 L617.54 625.99 L621.58 626.42 L625.61 626.84 L629.65 627.23 L633.69 627.60 L637.73 627.96 L641.77 628.30 L645.82 628.63 L649.87 628.93 L653.92 629.23 L657.97 629.50 L662.02 629.76 L666.07 630.01 L670.12 630.24 L674.18 630.45 L678.23 630.66 L682.29 630.85 L686.35 631.02 L690.41 631.19 L694.46 631.34 L698.52 631.48 L702.58 631.61 L706.64 631.73 L710.70 631.83 L714.76 631.93 L718.82 632.02 L722.88 632.10 L726.94 632.17 L730.99 632.23 L735.05 632.28 L739.11 632.32 L743.16 632.36 L747.22 632.39 L751.27 632.41 L755.33 632.43 L759.38 632.44 L763.43 632.45 L767.48 632.45" fill="none" stroke="#8FB032" stroke-width="2.3" stroke-linejoin="round"/>
<path d="M73.03 0.07 L73.93 3.88 L74.83 7.68 L75.74 11.49 L76.65 15.31 L77.57 19.12 L78.48 22.93 L79.41 26.74 L80.33 30.55 L81.26 34.36 L82.20 38.17 L83.14 41.98 L84.09 45.79 L85.04 49.60 L86.00 53.41 L86.96 57.22 L87.93 61.02 L88.91 64.83 L89.89 68.63 L90.88 72.43 L91.88 76.24 L92.88 80.03 L93.90 83.83 L94.92 87.63 L95.94 91.42 L96.98 95.21 L98.02 99.00 L99.08 102.79 L100.14 106.57 L101.21 110.36 L102.29 114.14 L103.38 117.91 L104.48 121.68 L105.59 125.45 L106.71 129.22 L107.84 132.98 L108.98 136.74 L110.13 140.50 L111.29 144.25 L112.47 148.00 L113.65 151.74 L114.85 155.48 L116.06 159.22 L117.28 162.95 L118.51 166.68 L119.76 170.40 L121.02 174.12 L122.29 177.83 L123.58 181.54 L124.88 185.24 L126.19 188.93 L127.52 192.62 L128.86 196.31 L130.21 199.99 L131.58 203.66 L132.97 207.33 L134.37 210.99 L135.78 214.65 L137.21 218.30 L138.66 221.94 L140.12 225.58 L141.60 229.21 L143.10 232.83 L144.61 236.45 L146.14 240.06 L147.68 243.66 L149.25 247.25 L150.83 250.84 L152.43 254.42 L154.04 257.99 L155.68 261.56 L157.33 265.11 L159.00 268.66 L160.69 272.20 L162.40 275.73 L164.13 279.25 L165.88 282.77 L167.65 286.27 L169.44 289.77 L171.25 293.26 L173.07 296.74 L174.92 300.20 L176.79 303.66 L178.69 307.11 L180.60 310.55 L182.53 313.98 L184.49 317.40 L186.46 320.81 L188.46 324.21 L190.47 327.59 L192.51 330.97 L194.57 334.33 L196.65 337.68 L198.75 341.01 L200.87 344.33 L203.02 347.64 L205.18 350.94 L207.37 354.22 L209.57 357.48 L211.80 360.73 L214.05 363.97 L216.32 367.19 L218.61 370.40 L220.93 373.58 L223.26 376.76 L225.62 379.91 L227.99 383.05 L230.39 386.17 L232.81 389.27 L235.25 392.36 L237.72 395.43 L240.20 398.47 L242.70 401.50 L245.23 404.51 L247.78 407.50 L250.35 410.47 L252.94 413.42 L255.55 416.35 L258.19 419.26 L260.85 422.14 L263.52 425.01 L266.22 427.85 L268.94 430.67 L271.69 433.47 L274.45 436.25 L277.24 439.00 L280.05 441.73 L282.88 444.43 L285.73 447.11 L288.60 449.77 L291.50 452.40 L294.41 455.00 L297.35 457.58 L300.31 460.14 L303.30 462.67 L306.30 465.17 L309.33 467.64 L312.38 470.09 L315.45 472.51 L318.54 474.91 L321.66 477.27 L324.79 479.61 L327.95 481.92 L331.13 484.20 L334.34 486.44 L337.56 488.66 L340.81 490.86 L344.07 493.02 L347.36 495.15 L350.67 497.25 L354.00 499.32 L357.35 501.37 L360.71 503.38 L364.10 505.37 L367.50 507.33 L370.92 509.25 L374.36 511.15 L377.82 513.02 L381.29 514.86 L384.78 516.67 L388.28 518.46 L391.80 520.21 L395.33 521.94 L398.88 523.63 L402.44 525.30 L406.01 526.94 L409.60 528.55 L413.20 530.13 L416.82 531.69 L420.44 533.21 L424.08 534.71 L427.73 536.18 L431.38 537.62 L435.05 539.03 L438.73 540.42 L442.42 541.78 L446.12 543.11 L449.83 544.42 L453.55 545.70 L457.27 546.95 L461.01 548.18 L464.75 549.38 L468.50 550.56 L472.26 551.72 L476.02 552.85 L479.79 553.95 L483.57 555.04 L487.36 556.09 L491.15 557.13 L494.94 558.14 L498.75 559.14 L502.55 560.10 L506.37 561.05 L510.18 561.98 L514.00 562.88 L517.83 563.76 L521.66 564.63 L525.49 565.47 L529.33 566.29 L533.17 567.09 L537.01 567.87 L540.86 568.63 L544.72 569.37 L548.57 570.09 L552.43 570.80 L556.30 571.48 L560.16 572.15 L564.03 572.79 L567.90 573.42 L571.78 574.03 L575.66 574.62 L579.54 575.20 L583.42 575.76 L587.31 576.30 L591.20 576.82 L595.09 577.32 L598.99 577.81 L602.88 578.29 L606.78 578.74 L610.68 579.19 L614.59 579.61 L618.49 580.02 L622.40 580.42 L626.31 580.80 L630.22 581.16 L634.13 581.51 L638.04 581.85 L641.96 582.17 L645.88 582.48 L649.79 582.77 L653.71 583.05 L657.63 583.32 L661.55 583.57 L665.48 583.81 L669.40 584.04 L673.32 584.26 L677.25 584.46 L681.17 584.65 L685.09 584.83 L689.02 585.00 L692.95 585.16 L696.87 585.30 L700.80 585.44 L704.72 585.56 L708.65 585.67 L712.57 585.78 L716.50 585.87 L720.42 585.95 L724.35 586.03 L728.27 586.09 L732.20 586.15 L736.12 586.19 L740.04 586.23 L743.96 586.26 L747.88 586.28 L751.80 586.29 L755.72 586.29 L759.63 586.29 L763.55 586.28 L767.46 586.26" fill="none" stroke="#E19C24" stroke-width="2.3" stroke-linejoin="round"/>
<path d="M71.66 0.11 L72.52 3.97 L73.38 7.83 L74.24 11.69 L75.11 15.55 L75.98 19.41 L76.86 23.27 L77.74 27.13 L78.63 30.99 L79.52 34.86 L80.42 38.72 L81.33 42.58 L82.24 46.44 L83.15 50.30 L84.08 54.16 L85.01 58.02 L85.94 61.87 L86.88 65.73 L87.83 69.59 L88.79 73.44 L89.76 77.29 L90.73 81.14 L91.71 84.99 L92.70 88.84 L93.70 92.68 L94.71 96.53 L95.72 100.37 L96.75 104.21 L97.78 108.04 L98.83 111.88 L99.88 115.71 L100.94 119.53 L102.02 123.36 L103.10 127.18 L104.20 131.00 L105.30 134.82 L106.42 138.63 L107.55 142.44 L108.69 146.24 L109.84 150.04 L111.00 153.84 L112.18 157.63 L113.37 161.42 L114.57 165.21 L115.78 168.99 L117.01 172.76 L118.25 176.53 L119.50 180.30 L120.77 184.06 L122.05 187.82 L123.34 191.57 L124.65 195.31 L125.98 199.05 L127.32 202.79 L128.67 206.52 L130.04 210.24 L131.42 213.96 L132.82 217.67 L134.24 221.38 L135.67 225.08 L137.12 228.77 L138.58 232.45 L140.06 236.13 L141.56 239.81 L143.08 243.47 L144.61 247.13 L146.16 250.78 L147.73 254.43 L149.31 258.07 L150.92 261.70 L152.54 265.32 L154.18 268.93 L155.84 272.54 L157.52 276.14 L159.22 279.73 L160.94 283.31 L162.68 286.88 L164.43 290.45 L166.21 294.01 L168.01 297.55 L169.83 301.09 L171.67 304.62 L173.53 308.14 L175.41 311.66 L177.31 315.16 L179.23 318.65 L181.18 322.13 L183.14 325.60 L185.13 329.05 L187.13 332.50 L189.16 335.94 L191.21 339.36 L193.28 342.77 L195.37 346.17 L197.48 349.55 L199.61 352.92 L201.77 356.28 L203.94 359.62 L206.14 362.95 L208.35 366.26 L210.59 369.56 L212.85 372.85 L215.13 376.11 L217.43 379.37 L219.76 382.60 L222.10 385.82 L224.47 389.02 L226.85 392.21 L229.26 395.38 L231.69 398.53 L234.14 401.66 L236.62 404.77 L239.11 407.87 L241.63 410.94 L244.17 414.00 L246.73 417.03 L249.31 420.05 L251.91 423.05 L254.53 426.02 L257.18 428.98 L259.85 431.91 L262.53 434.82 L265.25 437.71 L267.98 440.58 L270.73 443.42 L273.51 446.25 L276.31 449.04 L279.13 451.82 L281.97 454.57 L284.83 457.30 L287.72 460.00 L290.63 462.68 L293.56 465.34 L296.51 467.96 L299.48 470.57 L302.48 473.14 L305.49 475.69 L308.53 478.22 L311.60 480.71 L314.68 483.18 L317.79 485.63 L320.92 488.04 L324.07 490.43 L327.24 492.78 L330.43 495.11 L333.65 497.41 L336.89 499.68 L340.15 501.92 L343.44 504.13 L346.74 506.32 L350.07 508.47 L353.41 510.59 L356.78 512.69 L360.16 514.75 L363.57 516.79 L366.99 518.79 L370.43 520.77 L373.89 522.72 L377.37 524.64 L380.86 526.52 L384.37 528.38 L387.90 530.21 L391.44 532.01 L395.00 533.78 L398.57 535.53 L402.16 537.24 L405.76 538.92 L409.38 540.57 L413.01 542.20 L416.65 543.79 L420.31 545.36 L423.98 546.89 L427.66 548.40 L431.35 549.88 L435.06 551.33 L438.77 552.75 L442.50 554.15 L446.24 555.51 L449.98 556.85 L453.74 558.17 L457.51 559.45 L461.28 560.71 L465.07 561.94 L468.86 563.15 L472.66 564.33 L476.47 565.48 L480.29 566.61 L484.11 567.72 L487.94 568.79 L491.78 569.85 L495.63 570.88 L499.48 571.88 L503.33 572.86 L507.19 573.82 L511.06 574.75 L514.93 575.66 L518.80 576.55 L522.68 577.41 L526.56 578.25 L530.45 579.07 L534.34 579.87 L538.24 580.64 L542.14 581.40 L546.04 582.13 L549.95 582.84 L553.86 583.53 L557.78 584.20 L561.70 584.85 L565.62 585.48 L569.54 586.09 L573.47 586.68 L577.40 587.26 L581.34 587.81 L585.27 588.34 L589.21 588.86 L593.15 589.36 L597.10 589.84 L601.04 590.30 L604.99 590.74 L608.94 591.17 L612.90 591.58 L616.85 591.98 L620.81 592.35 L624.76 592.72 L628.72 593.06 L632.68 593.39 L636.64 593.71 L640.61 594.01 L644.57 594.30 L648.54 594.57 L652.50 594.83 L656.47 595.07 L660.44 595.30 L664.40 595.52 L668.37 595.72 L672.34 595.91 L676.31 596.09 L680.28 596.25 L684.24 596.41 L688.21 596.55 L692.18 596.68 L696.15 596.80 L700.11 596.90 L704.08 597.00 L708.05 597.09 L712.01 597.16 L715.97 597.23 L719.94 597.29 L723.90 597.33 L727.86 597.37 L731.82 597.40 L735.77 597.42 L739.73 597.43 L743.68 597.44 L747.63 597.43 L751.58 597.42 L755.53 597.40 L759.48 597.37 L763.42 597.34 L767.36 597.30" fill="none" stroke="#E19C24" stroke-width="2.3" stroke-linejoin="round"/>
<path d="M72.34 0.22 L73.18 4.05 L74.03 7.88 L74.88 11.71 L75.74 15.55 L76.61 19.38 L77.48 23.21 L78.36 27.04 L79.25 30.87 L80.14 34.70 L81.04 38.52 L81.95 42.35 L82.87 46.18 L83.80 50.00 L84.73 53.82 L85.67 57.65 L86.62 61.47 L87.57 65.29 L88.54 69.11 L89.51 72.92 L90.50 76.74 L91.49 80.55 L92.49 84.37 L93.50 88.18 L94.52 91.99 L95.55 95.79 L96.59 99.60 L97.64 103.40 L98.69 107.20 L99.76 111.00 L100.84 114.80 L101.93 118.59 L103.03 122.39 L104.14 126.18 L105.26 129.97 L106.39 133.75 L107.53 137.54 L108.69 141.32 L109.85 145.09 L111.03 148.87 L112.22 152.64 L113.42 156.41 L114.63 160.18 L115.86 163.94 L117.09 167.70 L118.34 171.46 L119.61 175.21 L120.88 178.96 L122.17 182.70 L123.47 186.44 L124.79 190.17 L126.12 193.90 L127.46 197.63 L128.82 201.35 L130.19 205.06 L131.57 208.77 L132.98 212.48 L134.39 216.17 L135.82 219.87 L137.27 223.55 L138.73 227.23 L140.21 230.90 L141.70 234.57 L143.21 238.23 L144.73 241.88 L146.27 245.52 L147.83 249.16 L149.40 252.79 L151.00 256.41 L152.60 260.02 L154.23 263.62 L155.87 267.22 L157.53 270.81 L159.21 274.38 L160.91 277.95 L162.62 281.51 L164.36 285.06 L166.11 288.60 L167.88 292.14 L169.67 295.66 L171.48 299.17 L173.31 302.67 L175.16 306.16 L177.02 309.64 L178.91 313.11 L180.82 316.56 L182.75 320.01 L184.70 323.45 L186.67 326.87 L188.66 330.28 L190.67 333.68 L192.70 337.07 L194.75 340.44 L196.83 343.80 L198.93 347.15 L201.05 350.49 L203.19 353.81 L205.35 357.12 L207.54 360.42 L209.75 363.70 L211.98 366.97 L214.23 370.22 L216.51 373.46 L218.81 376.68 L221.13 379.88 L223.47 383.07 L225.84 386.24 L228.22 389.39 L230.63 392.53 L233.07 395.65 L235.52 398.75 L238.00 401.83 L240.50 404.89 L243.03 407.93 L245.58 410.95 L248.15 413.95 L250.74 416.93 L253.36 419.89 L255.99 422.82 L258.66 425.74 L261.34 428.63 L264.05 431.50 L266.78 434.34 L269.53 437.17 L272.31 439.96 L275.11 442.74 L277.93 445.49 L280.78 448.21 L283.65 450.91 L286.54 453.58 L289.46 456.23 L292.40 458.84 L295.36 461.44 L298.35 464.00 L301.36 466.54 L304.39 469.05 L307.44 471.54 L310.51 474.00 L313.61 476.43 L316.73 478.83 L319.86 481.21 L323.02 483.56 L326.20 485.88 L329.40 488.18 L332.62 490.45 L335.85 492.69 L339.11 494.90 L342.39 497.09 L345.68 499.25 L348.99 501.39 L352.32 503.49 L355.67 505.57 L359.03 507.62 L362.42 509.65 L365.81 511.65 L369.23 513.62 L372.66 515.56 L376.11 517.48 L379.57 519.37 L383.05 521.23 L386.54 523.06 L390.05 524.87 L393.57 526.65 L397.11 528.40 L400.66 530.13 L404.22 531.83 L407.80 533.50 L411.39 535.14 L414.99 536.76 L418.61 538.35 L422.24 539.91 L425.88 541.44 L429.53 542.95 L433.19 544.43 L436.86 545.88 L440.55 547.30 L444.24 548.70 L447.94 550.07 L451.66 551.41 L455.38 552.72 L459.12 554.01 L462.86 555.27 L466.61 556.50 L470.37 557.70 L474.13 558.88 L477.91 560.03 L481.69 561.15 L485.48 562.25 L489.28 563.32 L493.09 564.36 L496.90 565.39 L500.72 566.38 L504.55 567.35 L508.38 568.30 L512.22 569.22 L516.07 570.12 L519.92 571.00 L523.78 571.85 L527.65 572.68 L531.52 573.48 L535.39 574.27 L539.27 575.03 L543.16 575.77 L547.05 576.49 L550.95 577.19 L554.85 577.87 L558.75 578.52 L562.66 579.16 L566.57 579.78 L570.49 580.38 L574.41 580.95 L578.33 581.51 L582.26 582.05 L586.19 582.58 L590.12 583.08 L594.06 583.57 L598.00 584.04 L601.94 584.49 L605.88 584.92 L609.82 585.34 L613.77 585.74 L617.72 586.13 L621.67 586.50 L625.62 586.85 L629.57 587.19 L633.52 587.51 L637.48 587.82 L641.43 588.12 L645.39 588.40 L649.34 588.67 L653.29 588.92 L657.25 589.16 L661.20 589.39 L665.16 589.61 L669.11 589.81 L673.06 590.00 L677.01 590.18 L680.96 590.35 L684.91 590.51 L688.86 590.66 L692.81 590.80 L696.75 590.92 L700.69 591.04 L704.63 591.15 L708.56 591.25 L712.50 591.34 L716.43 591.42 L720.36 591.49 L724.28 591.56 L728.20 591.61 L732.12 591.66 L736.03 591.70 L739.94 591.74 L743.85 591.77 L747.75 591.79 L751.65 591.81 L755.54 591.82 L759.43 591.82 L763.31 591.83 L767.19 591.82" fill="none" stroke="#5E81B5" stroke-width="2.3" stroke-linejoin="round"/>
</g>
<line x1="72.5" y1="543.3" x2="767.5" y2="543.3" stroke="#000" stroke-opacity="0.8" stroke-width="1.1"/>
<g stroke="#858585" stroke-width="1" fill="none">
<path d="M72.5 0.5 H767.5 V695.5 H72.5 Z"/>
</g>
<path d="M73.20 695.5 V678.2 M73.20 0.5 V3.9 M116.55 695.5 V678.2 M116.55 0.5 V3.9 M159.90 695.5 V678.2 M159.90 0.5 V3.9 M203.25 695.5 V678.2 M203.25 0.5 V3.9 M246.60 695.5 V678.2 M246.60 0.5 V3.9 M289.95 695.5 V678.2 M289.95 0.5 V3.9 M333.30 695.5 V678.2 M333.30 0.5 V3.9 M376.65 695.5 V678.2 M376.65 0.5 V3.9 M420.00 695.5 V678.2 M420.00 0.5 V3.9 M463.35 695.5 V678.2 M463.35 0.5 V3.9 M506.70 695.5 V678.2 M506.70 0.5 V3.9 M550.05 695.5 V678.2 M550.05 0.5 V3.9 M593.40 695.5 V678.2 M593.40 0.5 V3.9 M636.75 695.5 V678.2 M636.75 0.5 V3.9 M680.10 695.5 V678.2 M680.10 0.5 V3.9 M723.45 695.5 V678.2 M723.45 0.5 V3.9 M766.80 695.5 V678.2 M766.80 0.5 V3.9 M72.5 543.30 H77.9 M767.5 543.30 H762.1 M72.5 347.90 H77.9 M767.5 347.90 H762.1 M72.5 152.50 H77.9 M767.5 152.50 H762.1" stroke="#7d7d7d" stroke-width="1" fill="none"/>
<path d="M86.25 695.5 V690.3 M93.88 695.5 V690.3 M99.30 695.5 V690.3 M103.50 695.5 V690.3 M106.93 695.5 V690.3 M109.84 695.5 V690.3 M112.35 695.5 V690.3 M114.57 695.5 V690.3 M129.60 695.5 V690.3 M137.23 695.5 V690.3 M142.65 695.5 V690.3 M146.85 695.5 V690.3 M150.28 695.5 V690.3 M153.19 695.5 V690.3 M155.70 695.5 V690.3 M157.92 695.5 V690.3 M172.95 695.5 V690.3 M180.58 695.5 V690.3 M186.00 695.5 V690.3 M190.20 695.5 V690.3 M193.63 695.5 V690.3 M196.54 695.5 V690.3 M199.05 695.5 V690.3 M201.27 695.5 V690.3 M216.30 695.5 V690.3 M223.93 695.5 V690.3 M229.35 695.5 V690.3 M233.55 695.5 V690.3 M236.98 695.5 V690.3 M239.89 695.5 V690.3 M242.40 695.5 V690.3 M244.62 695.5 V690.3 M259.65 695.5 V690.3 M267.28 695.5 V690.3 M272.70 695.5 V690.3 M276.90 695.5 V690.3 M280.33 695.5 V690.3 M283.24 695.5 V690.3 M285.75 695.5 V690.3 M287.97 695.5 V690.3 M303.00 695.5 V690.3 M310.63 695.5 V690.3 M316.05 695.5 V690.3 M320.25 695.5 V690.3 M323.68 695.5 V690.3 M326.59 695.5 V690.3 M329.10 695.5 V690.3 M331.32 695.5 V690.3 M346.35 695.5 V690.3 M353.98 695.5 V690.3 M359.40 695.5 V690.3 M363.60 695.5 V690.3 M367.03 695.5 V690.3 M369.94 695.5 V690.3 M372.45 695.5 V690.3 M374.67 695.5 V690.3 M389.70 695.5 V690.3 M397.33 695.5 V690.3 M402.75 695.5 V690.3 M406.95 695.5 V690.3 M410.38 695.5 V690.3 M413.29 695.5 V690.3 M415.80 695.5 V690.3 M418.02 695.5 V690.3 M433.05 695.5 V690.3 M440.68 695.5 V690.3 M446.10 695.5 V690.3 M450.30 695.5 V690.3 M453.73 695.5 V690.3 M456.64 695.5 V690.3 M459.15 695.5 V690.3 M461.37 695.5 V690.3 M476.40 695.5 V690.3 M484.03 695.5 V690.3 M489.45 695.5 V690.3 M493.65 695.5 V690.3 M497.08 695.5 V690.3 M499.99 695.5 V690.3 M502.50 695.5 V690.3 M504.72 695.5 V690.3 M519.75 695.5 V690.3 M527.38 695.5 V690.3 M532.80 695.5 V690.3 M537.00 695.5 V690.3 M540.43 695.5 V690.3 M543.34 695.5 V690.3 M545.85 695.5 V690.3 M548.07 695.5 V690.3 M563.10 695.5 V690.3 M570.73 695.5 V690.3 M576.15 695.5 V690.3 M580.35 695.5 V690.3 M583.78 695.5 V690.3 M586.69 695.5 V690.3 M589.20 695.5 V690.3 M591.42 695.5 V690.3 M606.45 695.5 V690.3 M614.08 695.5 V690.3 M619.50 695.5 V690.3 M623.70 695.5 V690.3 M627.13 695.5 V690.3 M630.04 695.5 V690.3 M632.55 695.5 V690.3 M634.77 695.5 V690.3 M649.80 695.5 V690.3 M657.43 695.5 V690.3 M662.85 695.5 V690.3 M667.05 695.5 V690.3 M670.48 695.5 V690.3 M673.39 695.5 V690.3 M675.90 695.5 V690.3 M678.12 695.5 V690.3 M693.15 695.5 V690.3 M700.78 695.5 V690.3 M706.20 695.5 V690.3 M710.40 695.5 V690.3 M713.83 695.5 V690.3 M716.74 695.5 V690.3 M719.25 695.5 V690.3 M721.47 695.5 V690.3 M736.50 695.5 V690.3 M744.13 695.5 V690.3 M749.55 695.5 V690.3 M753.75 695.5 V690.3 M757.18 695.5 V690.3 M760.09 695.5 V690.3 M762.60 695.5 V690.3 M764.82 695.5 V690.3 M72.5 660.54 H75.9 M767.5 660.54 H764.1 M72.5 621.46 H75.9 M767.5 621.46 H764.1 M72.5 582.38 H75.9 M767.5 582.38 H764.1 M72.5 504.22 H75.9 M767.5 504.22 H764.1 M72.5 465.14 H75.9 M767.5 465.14 H764.1 M72.5 426.06 H75.9 M767.5 426.06 H764.1 M72.5 386.98 H75.9 M767.5 386.98 H764.1 M72.5 308.82 H75.9 M767.5 308.82 H764.1 M72.5 269.74 H75.9 M767.5 269.74 H764.1 M72.5 230.66 H75.9 M767.5 230.66 H764.1 M72.5 191.58 H75.9 M767.5 191.58 H764.1 M72.5 113.42 H75.9 M767.5 113.42 H764.1 M72.5 74.34 H75.9 M767.5 74.34 H764.1 M72.5 35.26 H75.9 M767.5 35.26 H764.1" stroke="#858585" stroke-width="1" fill="none"/>
<g font-family="'Liberation Sans', sans-serif" fill="#000" stroke="#000" stroke-width="0.3">
<text x="22.26" y="161.10" font-size="24">0.10</text>
<text x="22.26" y="356.50" font-size="24">0.05</text>
<text x="22.26" y="551.90" font-size="24">0.00</text>
<text transform="translate(1.79 356.30) scale(1.0886 1)" font-size="22" font-style="italic">λ</text>
<text x="55.13" y="720.6" font-size="24">10</text>
<text x="81.42" y="711.4" font-size="17">2</text>
<text x="98.48" y="720.6" font-size="24">10</text>
<text x="124.77" y="711.4" font-size="17">3</text>
<text x="141.83" y="720.6" font-size="24">10</text>
<text x="168.12" y="711.4" font-size="17">4</text>
<text x="185.18" y="720.6" font-size="24">10</text>
<text x="211.47" y="711.4" font-size="17">5</text>
<text x="228.53" y="720.6" font-size="24">10</text>
<text x="254.82" y="711.4" font-size="17">6</text>
<text x="271.88" y="720.6" font-size="24">10</text>
<text x="298.17" y="711.4" font-size="17">7</text>
<text x="315.23" y="720.6" font-size="24">10</text>
<text x="341.52" y="711.4" font-size="17">8</text>
<text x="358.58" y="720.6" font-size="24">10</text>
<text x="384.87" y="711.4" font-size="17">9</text>
<text x="398.00" y="720.6" font-size="24">10</text>
<text x="423.49" y="711.4" font-size="17">10</text>
<text x="441.35" y="720.6" font-size="24">10</text>
<text x="466.84" y="711.4" font-size="17">11</text>
<text x="484.70" y="720.6" font-size="24">10</text>
<text x="510.19" y="711.4" font-size="17">12</text>
<text x="528.05" y="720.6" font-size="24">10</text>
<text x="553.54" y="711.4" font-size="17">13</text>
<text x="571.40" y="720.6" font-size="24">10</text>
<text x="596.89" y="711.4" font-size="17">14</text>
<text x="614.75" y="720.6" font-size="24">10</text>
<text x="640.24" y="711.4" font-size="17">15</text>
<text x="658.10" y="720.6" font-size="24">10</text>
<text x="683.59" y="711.4" font-size="17">16</text>
<text x="701.45" y="720.6" font-size="24">10</text>
<text x="726.94" y="711.4" font-size="17">17</text>
<text x="744.80" y="720.6" font-size="24">10</text>
<text x="770.29" y="711.4" font-size="17">18</text>
<text transform="translate(381.28 755.60) scale(0.9911 1)" font-size="23" font-style="italic">μ</text>
<text transform="translate(400.02 755.60) scale(1.0266 1)" font-size="23">[GeV]</text>
<line x1="218.3" y1="50.55" x2="245.2" y2="50.55" stroke="#5E81B5" stroke-width="2.3"/>
<line x1="218.3" y1="85.75" x2="245.2" y2="85.75" stroke="#E19C24" stroke-width="2.3"/>
<line x1="218.3" y1="120.90" x2="245.2" y2="120.90" stroke="#8FB032" stroke-width="2.3"/>
<line x1="218.3" y1="156.00" x2="245.2" y2="156.00" stroke="#EB6235" stroke-width="2.3"/>
<text transform="translate(257.05 54.80) scale(1.0519 1)" font-size="20" font-style="italic">m</text>
<text transform="translate(274.33 58.80) scale(0.9000 1)" font-size="16.5" font-style="italic">t</text>
<text transform="translate(284.25 55.97) scale(0.9600 0.89)" font-size="20" stroke-width="0.75">=</text>
<text transform="translate(303.11 54.80) scale(1.0431 1)" font-size="20">173.0</text>
<text transform="translate(361.38 54.80) scale(1.0170 1)" font-size="20">GeV,</text>
<text transform="translate(415.14 54.80) scale(1.0779 1)" font-size="20" font-style="italic">m</text>
<text transform="translate(434.15 58.80) scale(0.9000 1)" font-size="16.5" font-style="italic">h</text>
<text transform="translate(447.30 55.97) scale(0.9600 0.89)" font-size="20" stroke-width="0.75">=</text>
<text transform="translate(466.65 54.80) scale(1.0157 1)" font-size="20">125.18</text>
<text transform="translate(535.25 54.80) scale(1.0427 1)" font-size="20">GeV,</text>
<text transform="translate(589.54 54.80) scale(1.1169 1)" font-size="20" font-style="italic">α</text>
<text transform="translate(603.88 58.80) scale(0.9000 1)" font-size="16.5" font-style="italic">S</text>
<text x="614.36" y="54.80" font-size="20">(</text>
<text transform="translate(620.54 54.80) scale(1.0974 1)" font-size="20" font-style="italic">m</text>
<text transform="translate(639.59 58.80) scale(0.9000 1)" font-size="16.5" font-style="italic">Z</text>
<text transform="translate(649.89 54.80) scale(0.9000 1)" font-size="20">)</text>
<text transform="translate(661.65 55.97) scale(0.9600 0.89)" font-size="20" stroke-width="0.75">=</text>
<text transform="translate(679.33 54.80) scale(0.9897 1)" font-size="20">0.1181</text>
<text transform="translate(255.76 90.00) scale(1.0745 1)" font-size="20">Δm</text>
<text transform="translate(288.75 94.00) scale(0.9000 1)" font-size="16.5" font-style="italic">h</text>
<text transform="translate(303.40 91.17) scale(0.9600 0.89)" font-size="20" stroke-width="0.75">=</text>
<text x="321.54" y="90.00" font-size="20">3</text>
<text transform="translate(333.75 90.00) scale(1.1313 1)" font-size="20" font-style="italic">σ</text>
<text transform="translate(255.76 125.20) scale(1.0781 1)" font-size="20">Δm</text>
<text transform="translate(289.55 129.20) scale(0.9000 1)" font-size="16.5" font-style="italic">h</text>
<text x="297.50" y="125.20" font-size="20">,</text>
<text transform="translate(308.91 125.20) scale(1.1500 1)" font-size="20">Δ</text>
<text transform="translate(324.95 125.20) scale(1.0901 1)" font-size="20" font-style="italic">α</text>
<text transform="translate(338.58 129.20) scale(0.9000 1)" font-size="16.5" font-style="italic">S</text>
<text x="348.56" y="125.20" font-size="20">(</text>
<text transform="translate(354.86 125.20) scale(1.0389 1)" font-size="20" font-style="italic">m</text>
<text transform="translate(373.49 129.20) scale(0.9000 1)" font-size="16.5" font-style="italic">Z</text>
<text transform="translate(383.69 125.20) scale(0.9000 1)" font-size="20">)</text>
<text transform="translate(396.05 126.37) scale(0.9600 0.89)" font-size="20" stroke-width="0.75">=</text>
<text transform="translate(413.87 125.20) scale(0.9597 1)" font-size="20">3</text>
<text transform="translate(425.98 125.20) scale(1.0897 1)" font-size="20" font-style="italic">σ</text>
<text transform="translate(255.76 160.40) scale(1.0781 1)" font-size="20">Δm</text>
<text transform="translate(289.55 164.40) scale(0.9000 1)" font-size="16.5" font-style="italic">h</text>
<text x="297.50" y="160.40" font-size="20">,</text>
<text transform="translate(308.91 160.40) scale(1.1500 1)" font-size="20">Δ</text>
<text transform="translate(324.95 160.40) scale(1.0901 1)" font-size="20" font-style="italic">α</text>
<text transform="translate(338.58 164.40) scale(0.9000 1)" font-size="16.5" font-style="italic">S</text>
<text x="348.56" y="160.40" font-size="20">(</text>
<text transform="translate(354.86 160.40) scale(1.0389 1)" font-size="20" font-style="italic">m</text>
<text transform="translate(373.49 164.40) scale(0.9000 1)" font-size="16.5" font-style="italic">Z</text>
<text transform="translate(383.69 160.40) scale(0.9000 1)" font-size="20">)</text>
<text x="388.10" y="160.40" font-size="20">,</text>
<text transform="translate(401.16 160.40) scale(1.0816 1)" font-size="20">Δm</text>
<text transform="translate(433.93 164.40) scale(0.9000 1)" font-size="16.5" font-style="italic">t</text>
<text transform="translate(445.75 161.57) scale(0.9600 0.89)" font-size="20" stroke-width="0.75">=</text>
<text transform="translate(463.41 160.40) scale(0.9069 1)" font-size="20">3</text>
<text transform="translate(474.99 160.40) scale(1.0648 1)" font-size="20" font-style="italic">σ</text>
</g>
</svg>
</body></html>
